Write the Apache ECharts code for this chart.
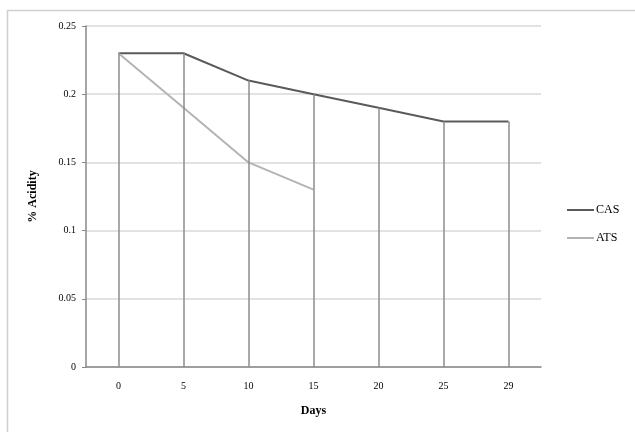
<!DOCTYPE html>
<html><head><meta charset="utf-8">
<script src="https://cdn.jsdelivr.net/npm/echarts@6/dist/echarts.min.js"></script>
<style>html,body{margin:0;padding:0;background:#fff}#c{width:635px;height:432px}</style>
</head><body><div id="c"></div>
<script>
const days = ['0','5','10','15','20','25','29'];
const cas = [0.23, 0.23, 0.21, 0.2, 0.19, 0.18, 0.18];
const ats = [0.23, 0.19, 0.15, 0.13];
const yTicks = [0, 0.05, 0.1, 0.15, 0.2, 0.25];

const chart = echarts.init(document.getElementById('c'));
const font = 'Liberation Serif';
chart.setOption({
  animation: false,
  textStyle: {fontFamily: font},
  graphic: [{type:'rect', shape:{x:7.5,y:10.5,width:640,height:440}, style:{fill:'none', stroke:'#d0d0d0', lineWidth:1.5}, silent:true}],
  grid: {left: 86, right: 94, top: 26, bottom: 65},
  legend: {
    orient: 'vertical', left: 562, top: 199, itemGap: 16, itemWidth: 27, itemHeight: 2,
    icon: 'rect',
    textStyle: {fontFamily: font, fontSize: 12, color: '#000', padding:[0,0,0,-3]},
    data: ['CAS','ATS']
  },
  xAxis: {
    type: 'category', data: days, boundaryGap: true,
    name: 'Days', nameLocation: 'middle', nameGap: 38,
    nameTextStyle: {fontFamily: font, fontWeight: 'bold', fontSize: 12, color: '#000'},
    axisLine: {lineStyle: {color: '#888', width: 1.5}},
    axisTick: {show: false},
    axisLabel: {fontFamily: font, fontSize: 10, color: '#000', margin: 14},
    splitLine: {show: false}
  },
  yAxis: {
    type: 'value', min: 0, max: 0.25, interval: 0.05,
    name: '% Acidity', nameLocation: 'middle', nameGap: 47, nameRotate: 90,
    nameTextStyle: {fontFamily: font, fontWeight: 'bold', fontSize: 12, color: '#000'},
    axisLine: {show: true, lineStyle: {color: '#888', width: 1.5}},
    axisTick: {show: true, length: 4, lineStyle: {color: '#888'}},
    axisLabel: {fontFamily: font, fontSize: 10, color: '#000', margin: 10,
      formatter: v => yTicks.includes(Math.round(v*100)/100) ? String(Math.round(v*100)/100) : ''},
    splitLine: {lineStyle: {color: '#d9d9d9', width: 1.5}}
  },
  series: [
    {
      name: 'CAS', type: 'line', data: cas, symbol: 'none',
      lineStyle: {color: '#5a5a5a', width: 2}, itemStyle: {color: '#5a5a5a'}, z: 3,
      markLine: {
        silent: true, symbol: 'none', label: {show: false},
        lineStyle: {color: '#8c8c8c', width: 1.5, type: 'solid'},
        data: cas.map((v, i) => [{coord: [i, v]}, {coord: [i, 0]}])
      }
    },
    {
      name: 'ATS', type: 'line', data: ats, symbol: 'none',
      lineStyle: {color: '#b4b4b4', width: 2}, itemStyle: {color: '#b4b4b4'}, z: 4
    }
  ]
});
</script></body></html>
